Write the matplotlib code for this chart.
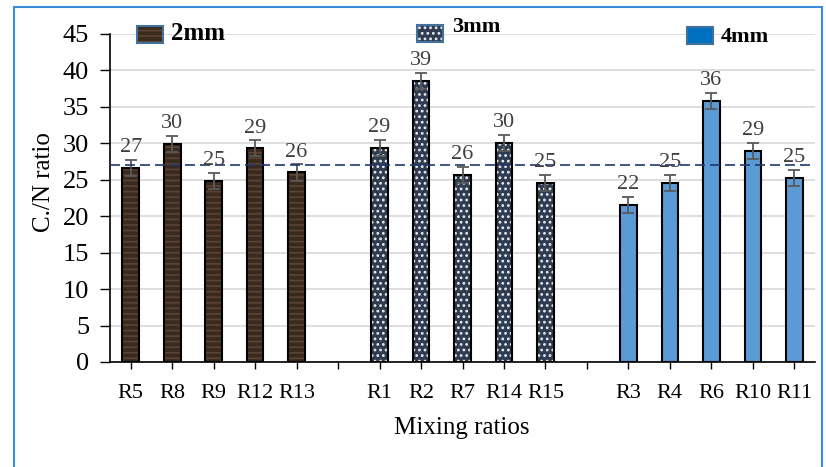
import matplotlib.pyplot as plt
from matplotlib.patches import Rectangle
import numpy as np

# C/N ratio per mixing ratio, grouped by particle size
labels_2mm = ['R5', 'R8', 'R9', 'R12', 'R13']
labels_3mm = ['R1', 'R2', 'R7', 'R14', 'R15']
labels_4mm = ['R3', 'R4', 'R6', 'R10', 'R11']
cn_2mm = [26.6, 29.9, 24.8, 29.3, 26.0]
cn_3mm = [29.4, 38.6, 25.6, 30.1, 24.6]
cn_4mm = [21.6, 24.6, 35.8, 28.9, 25.3]
err_2mm = [1.1, 1.1, 1.1, 1.1, 1.1]
err_3mm = [1.1, 1.1, 1.1, 1.1, 1.1]
err_4mm = [1.1, 1.1, 1.1, 1.1, 1.1]
reference_cn = 27
yticks = [0, 5, 10, 15, 20, 25, 30, 35, 40, 45]

plt.rcParams['font.family'] = ['Liberation Serif', 'DejaVu Serif']
plt.rcParams['hatch.linewidth'] = 1.2

fig = plt.figure(figsize=(8.26, 4.67), dpi=100)
ax = fig.add_axes([110 / 826, 1 - 362 / 467, 705 / 826, 328 / 467])

# outer blue frame
fig.patches.append(Rectangle((14 / 826, -0.05), 808 / 826, 1 - 7 / 467 + 0.05,
                             transform=fig.transFigure, fill=False,
                             edgecolor='#3a8ddc', linewidth=1.5))

groups = [
    (labels_2mm, cn_2mm, err_2mm, 0, '#3a2a1e', '#5c4434', '---'),
    (labels_3mm, cn_3mm, err_3mm, 6, '#2f3b4e', '#e8ecf2', '...'),
    (labels_4mm, cn_4mm, err_4mm, 12, '#5b9bd5', None, None),
]

tick_pos = np.arange(17)
tick_lbl = [''] * 17
for names, vals, errs, start, face, hcol, hatch in groups:
    x = np.arange(start, start + len(vals))
    for i, n in zip(x, names):
        tick_lbl[i] = n
    if hatch:
        ax.bar(x, vals, width=0.4, color=face, edgecolor=hcol, hatch=hatch,
               linewidth=0, zorder=2)
        ax.bar(x, vals, width=0.4, fill=False, edgecolor='black',
               linewidth=1.5, zorder=3)
    else:
        ax.bar(x, vals, width=0.4, color=face, edgecolor='black',
               linewidth=1.5, zorder=3)
    ax.errorbar(x, vals, yerr=errs, fmt='none', ecolor='#595959',
                elinewidth=1.3, capsize=4, capthick=1.3, zorder=4)
    for xi, v, e in zip(x, vals, errs):
        ax.text(xi, v + e + 0.4, f'{v:.0f}', ha='center', va='bottom',
                fontsize=16, color='#404040', zorder=5)

ax.axhline(reference_cn, color='#1f3870', linestyle=(0, (6, 3)),
           linewidth=1.2, zorder=4)

ax.set_xlim(-0.5, 16.5)
ax.set_ylim(0, 45)
ax.set_yticks(yticks)
ax.set_yticklabels([str(t) for t in yticks], fontsize=19)
ax.set_xticks(tick_pos)
ax.set_xticklabels(tick_lbl, fontsize=16)
ax.tick_params(axis='y', length=7, width=1, pad=8)
ax.tick_params(axis='x', length=5, width=1, pad=11)
ax.grid(axis='y', color='#d9d9d9', linewidth=1.2, zorder=0)
ax.set_axisbelow(True)
for s in ['top', 'right']:
    ax.spines[s].set_visible(False)
ax.spines['left'].set_linewidth(1.2)
ax.spines['bottom'].set_linewidth(1.2)

fig.text(462 / 826, 1 - 428 / 467, 'Mixing ratios', fontsize=18,
         ha='center', va='center')
fig.text(44 / 826, 1 - 182 / 467, 'C./N ratio', rotation=90, fontsize=18,
         ha='center', va='center')

# size labels with sample swatches
legend_items = [
    (137, 26, '#3a2a1e', '#5c4434', '---', 171, 33, '2mm', 18),
    (417, 25, '#2f3b4e', '#e8ecf2', '...', 452, 27, '3mm', 16),
    (687, 27, '#0070c0', None, None, 721, 37, '4mm', 16),
]
for px, py, face, hcol, hatch, tx, ty, txt, fs in legend_items:
    w, h = 26 / 826, 17 / 467
    x0, y0 = px / 826, 1 - (py + 17) / 467
    if hatch:
        fig.patches.append(Rectangle((x0, y0), w, h, transform=fig.transFigure,
                                     facecolor=face, edgecolor=hcol,
                                     hatch=hatch, linewidth=0))
    else:
        fig.patches.append(Rectangle((x0, y0), w, h, transform=fig.transFigure,
                                     facecolor=face, linewidth=0))
    fig.patches.append(Rectangle((x0, y0), w, h, transform=fig.transFigure,
                                 fill=False, edgecolor='#41719c', linewidth=1.5))
    fig.text(tx / 826, 1 - ty / 467, txt, fontsize=fs, fontweight='bold',
             ha='left', va='center')

fig.savefig('out.png', dpi=100)
